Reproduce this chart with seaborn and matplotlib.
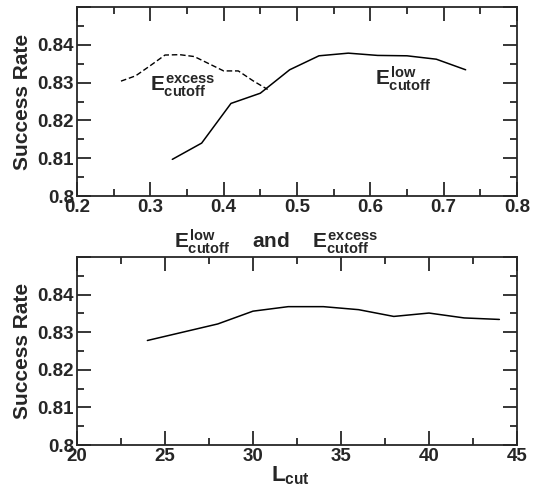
import matplotlib
matplotlib.use("Agg")
import matplotlib.pyplot as plt
import pandas as pd
import seaborn as sns
from matplotlib.ticker import MultipleLocator, FuncFormatter

# top panel: success rate vs energy cutoffs
e_low_x = [0.33, 0.37, 0.41, 0.45, 0.49, 0.53, 0.57, 0.61, 0.65, 0.69, 0.73]
e_low_y = [0.8097, 0.8140, 0.8245, 0.8272, 0.8334, 0.8371, 0.8378, 0.8372,
           0.8371, 0.8362, 0.8334]
e_excess_x = [0.26, 0.28, 0.30, 0.32, 0.34, 0.36, 0.38, 0.40, 0.42, 0.44, 0.46]
e_excess_y = [0.8304, 0.8318, 0.8345, 0.8373, 0.8374, 0.8369, 0.8350, 0.8331,
              0.8331, 0.8305, 0.8282]

# bottom panel: success rate vs L_cut
l_cut = [24, 26, 28, 30, 32, 34, 36, 38, 40, 42, 44]
l_rate = [0.8278, 0.8300, 0.8322, 0.8356, 0.8368, 0.8368, 0.8360, 0.8342,
          0.8351, 0.8338, 0.8334]

sns.set_style("ticks")
plt.rcParams["font.family"] = ["Liberation Sans", "DejaVu Sans"]
plt.rcParams["font.weight"] = "bold"
plt.rcParams["mathtext.fontset"] = "custom"
plt.rcParams["mathtext.rm"] = "Liberation Sans:bold"
plt.rcParams["mathtext.it"] = "Liberation Sans:bold"
plt.rcParams["mathtext.bf"] = "Liberation Sans:bold"
plt.rcParams["mathtext.sf"] = "Liberation Sans:bold"

fig = plt.figure(figsize=(5.35, 4.96), dpi=100)
ax_top = fig.add_axes([0.1439, 0.6048, 0.8224, 0.381])
ax_bot = fig.add_axes([0.1439, 0.1028, 0.8224, 0.379])

low_df = pd.DataFrame({"x": e_low_x, "y": e_low_y})
exc_df = pd.DataFrame({"x": e_excess_x, "y": e_excess_y})
l_df = pd.DataFrame({"x": l_cut, "y": l_rate})

sns.lineplot(data=low_df, x="x", y="y", color="black", lw=1.1, ax=ax_top)
sns.lineplot(data=exc_df, x="x", y="y", color="black", lw=1.0,
             dashes=False, ax=ax_top, linestyle=(0, (4, 2)))
sns.lineplot(data=l_df, x="x", y="y", color="black", lw=1.1, ax=ax_bot)

ax_top.text(0.30, 0.8277, r"$E^{excess}_{cutoff}$", fontsize=15)
ax_top.text(0.607, 0.8293, r"$E^{low}_{cutoff}$", fontsize=15)

fmt = FuncFormatter(lambda v, p: f"{v:g}")

for ax, (x0, x1, maj, mnr) in [(ax_top, (0.2, 0.8, 0.1, 0.05)),
                               (ax_bot, (20, 45, 5, 2.5))]:
    ax.set_xlim(x0, x1)
    ax.set_ylim(0.8, 0.85)
    ax.xaxis.set_major_locator(MultipleLocator(maj))
    ax.xaxis.set_minor_locator(MultipleLocator(mnr))
    ax.yaxis.set_major_locator(MultipleLocator(0.01))
    ax.yaxis.set_minor_locator(MultipleLocator(0.005))
    ax.xaxis.set_major_formatter(fmt)
    ax.yaxis.set_major_formatter(FuncFormatter(
        lambda v, p: "" if v > 0.845 else f"{v:g}"))
    ax.tick_params(which="both", direction="in", top=True, right=True,
                   width=1.3, labelsize=13.5, pad=2)
    ax.tick_params(which="major", length=10)
    ax.tick_params(which="minor", length=5)
    for s in ax.spines.values():
        s.set_linewidth(1.3)
    ax.set_ylabel("Success Rate", fontsize=15, fontweight="bold", labelpad=4)
    for lab in ax.get_xticklabels() + ax.get_yticklabels():
        lab.set_fontweight("bold")

ax_top.set_xlabel(r"$E^{low}_{cutoff}$    and    $E^{excess}_{cutoff}$",
                  fontsize=15, fontweight="bold", labelpad=8)
ax_top.xaxis.label.set_x(0.452)
ax_bot.set_xlabel(r"$L_{cut}$", fontsize=16, labelpad=0)
ax_bot.xaxis.label.set_x(0.485)

fig.savefig("out.png", dpi=100)
